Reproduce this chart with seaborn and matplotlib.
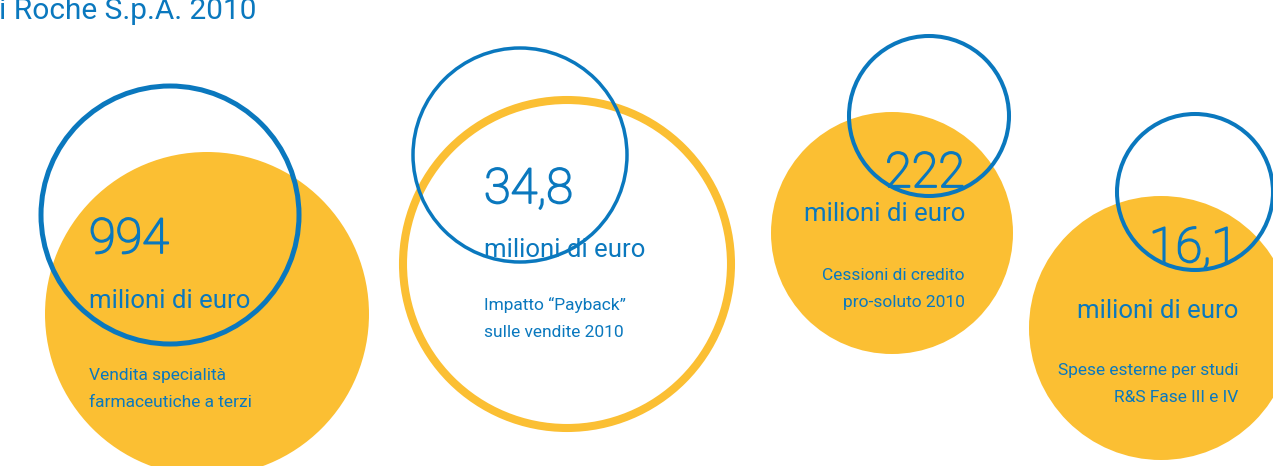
import matplotlib
matplotlib.use("Agg")
import matplotlib.pyplot as plt
import matplotlib.patheffects as pe
from matplotlib.patches import Circle
import seaborn as sns

# Data: key figures of the infographic
values = ["994", "34,8", "222", "16,1"]
units = ["milioni di euro"] * 4
descriptions = [
    "Vendita specialità\nfarmaceutiche a terzi",
    "Impatto \u201cPayback\u201d\nsulle vendite 2010",
    "Cessioni di credito\npro-soluto 2010",
    "Spese esterne per studi\nR&S Fase III e IV",
]
title = "i Roche S.p.A. 2010"

# Layout (pixel coordinates): yellow circle, blue ring, text anchors
yellow = [(207, 314, 162, True), (567, 264, 164, False), (892, 233, 121, True), (1161, 328, 132, True)]
blue = [(170, 215, 129), (520, 155, 107), (929, 116, 80), (1195, 192, 78)]
blue_lw = [3.6, 2.5, 2.9, 2.9]
text_x = [89, 484, 965, 1238]
text_ha = ["left", "left", "right", "right"]
value_y = [253, 203, 187, 262]
unit_y = [308, 257, 221, 318]
desc_y = [380, 310, 280, 375]
line_gap = 27

YELLOW = "#FBBF33"
BLUE = "#0A78BE"

sns.set_theme(style="white")
plt.rcParams["font.family"] = ["Roboto", "DejaVu Sans"]

fig = plt.figure(figsize=(12.73, 4.66), dpi=100)
ax = fig.add_axes([0, 0, 1, 1])
ax.set_xlim(0, 1273)
ax.set_ylim(466, 0)
ax.set_aspect("equal")
ax.axis("off")

for (cx, cy, r, filled) in yellow:
    if filled:
        ax.add_patch(Circle((cx, cy), r, facecolor=YELLOW, edgecolor="none", zorder=1))
    else:
        ax.add_patch(Circle((cx, cy), r, facecolor="none", edgecolor=YELLOW, lw=5.8, zorder=1))

for (cx, cy, r), lw in zip(blue, blue_lw):
    ax.add_patch(Circle((cx, cy), r, facecolor="none", edgecolor=BLUE, lw=lw, zorder=2))

thicken = [pe.withStroke(linewidth=1.3, foreground=BLUE)]
for i in range(4):
    ax.text(text_x[i], value_y[i], values[i], ha=text_ha[i], va="baseline",
            fontsize=35, color=BLUE, fontweight="light", path_effects=thicken, zorder=3)
    ax.text(text_x[i], unit_y[i], units[i], ha=text_ha[i], va="baseline",
            fontsize=18.5, color=BLUE, zorder=3)
    for k, line in enumerate(descriptions[i].split("\n")):
        ax.text(text_x[i], desc_y[i] + k * line_gap, line, ha=text_ha[i], va="baseline",
                fontsize=12.5, color=BLUE, zorder=3)

ax.text(-1, 19, title, ha="left", va="baseline", fontsize=21.5, color=BLUE, zorder=3)

fig.savefig("out.png", dpi=100)
